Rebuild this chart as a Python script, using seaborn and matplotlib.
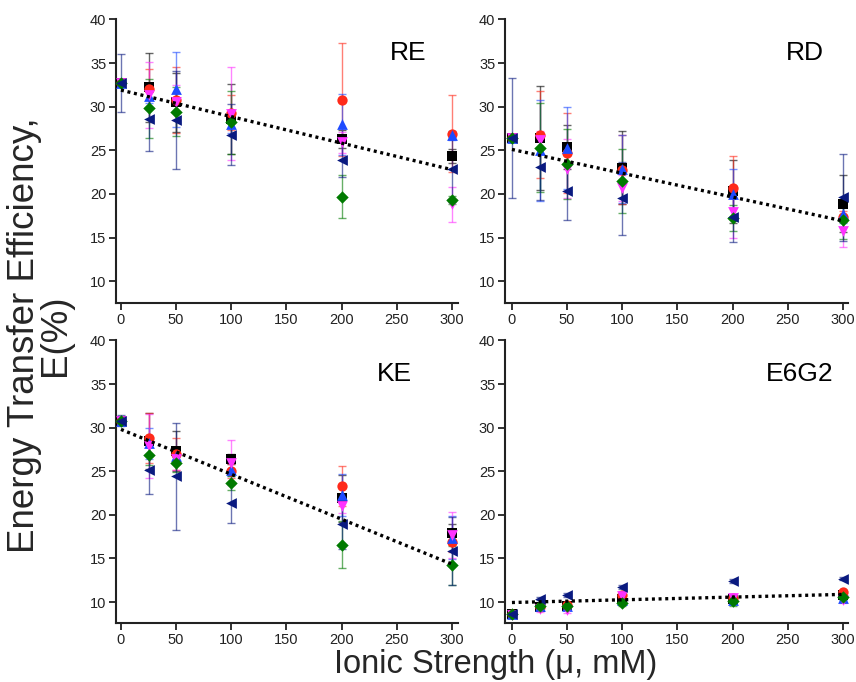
import numpy as np
import pandas as pd
import matplotlib
matplotlib.use("Agg")
import matplotlib.pyplot as plt
import seaborn as sns

sns.set_theme(style="ticks")
plt.rcParams['font.family'] = ['Liberation Sans', 'DejaVu Sans']

ionic = [0, 25, 50, 100, 200, 300]
panels = ["RE", "RD", "KE", "E6G2"]
series = ["black", "red", "blue", "magenta", "green", "navy"]

# values per panel, per series
RE_vals = {
    "black":   [32.7, 32.2, 30.5, 28.6, 26.3, 24.3],
    "red":     [32.7, 32.0, 30.8, 29.3, 30.8, 26.9],
    "blue":    [32.7, 31.2, 32.0, 28.0, 28.0, 26.7],
    "magenta": [32.7, 31.3, 30.5, 29.2, 25.9, 18.8],
    "green":   [32.7, 29.8, 29.4, 28.2, 19.7, 19.3],
    "navy":    [32.7, 28.6, 28.5, 26.8, 23.9, 22.9],
}
RE_errs = {
    "black":   [0.3, 3.9, 3.4, 4.0, 1.0, 0.8],
    "red":     [0.3, 2.3, 3.8, 2.0, 6.5, 4.4],
    "blue":    [0.3, 0.8, 4.3, 1.0, 3.5, 0.5],
    "magenta": [0.3, 3.8, 2.0, 5.3, 1.2, 2.0],
    "green":   [0.3, 3.4, 2.8, 3.6, 2.5, 0.5],
    "navy":    [3.3, 3.7, 5.6, 3.5, 2.0, 3.8],
}
RD_vals = {
    "black":   [26.4, 26.4, 25.4, 23.0, 20.3, 18.9],
    "red":     [26.4, 26.8, 24.7, 22.8, 20.7, 17.4],
    "blue":    [26.4, 25.0, 25.3, 22.9, 20.0, 17.7],
    "magenta": [26.4, 26.2, 22.9, 20.7, 17.9, 15.7],
    "green":   [26.4, 25.3, 23.4, 21.5, 17.2, 17.0],
    "navy":    [26.4, 23.1, 20.3, 19.5, 17.3, 19.6],
}
RD_errs = {
    "black":   [0.3, 6.0, 2.5, 4.2, 3.6, 3.3],
    "red":     [0.3, 5.0, 4.6, 4.0, 3.6, 0.6],
    "blue":    [0.3, 5.8, 4.7, 3.9, 2.9, 1.0],
    "magenta": [0.3, 1.0, 3.4, 1.5, 3.0, 1.8],
    "green":   [0.3, 5.1, 4.0, 3.7, 1.5, 2.2],
    "navy":    [6.9, 3.8, 3.3, 4.2, 2.8, 5.0],
}
KE_vals = {
    "black":   [30.8, 28.5, 27.3, 26.4, 21.9, 17.9],
    "red":     [30.8, 28.8, 27.0, 25.0, 23.3, 16.9],
    "blue":    [30.8, 28.2, 26.8, 25.2, 22.3, 17.4],
    "magenta": [30.8, 27.9, 26.4, 26.0, 21.0, 17.7],
    "green":   [30.8, 26.9, 25.9, 23.7, 16.6, 14.2],
    "navy":    [30.8, 25.1, 24.4, 21.4, 19.0, 15.9],
}
KE_errs = {
    "black":   [0.3, 3.2, 2.3, 0.6, 2.7, 1.0],
    "red":     [0.3, 2.9, 1.8, 0.8, 2.3, 1.2],
    "blue":    [0.3, 1.8, 1.0, 0.8, 2.4, 2.5],
    "magenta": [0.3, 3.7, 1.3, 2.6, 0.8, 2.6],
    "green":   [0.3, 1.2, 1.0, 0.8, 2.7, 2.2],
    "navy":    [0.6, 2.7, 6.1, 2.3, 2.9, 3.9],
}
E6G2_vals = {
    "black":   [8.6, 9.4, 9.6, 10.3, 10.4, 10.8],
    "red":     [8.6, 9.4, 9.7, 10.8, 10.5, 11.1],
    "blue":    [8.6, 9.6, 9.5, 10.2, 10.2, 10.5],
    "magenta": [8.5, 9.2, 9.1, 10.7, 10.5, 10.2],
    "green":   [8.6, 9.5, 9.6, 9.9, 10.1, 10.6],
    "navy":    [8.6, 10.4, 10.8, 11.7, 12.4, 12.7],
}
E6G2_errs = {
    "black":   [0.2, 0.3, 0.3, 0.3, 0.3, 0.3],
    "red":     [0.2, 0.3, 0.3, 0.3, 0.3, 0.3],
    "blue":    [0.2, 0.3, 0.3, 0.3, 0.3, 0.3],
    "magenta": [0.2, 0.3, 0.3, 0.3, 0.3, 0.3],
    "green":   [0.2, 0.3, 0.3, 0.3, 0.6, 0.3],
    "navy":    [0.2, 0.2, 0.2, 0.2, 0.2, 0.2],
}
fit_intercepts = [31.9, 25.1, 29.8, 9.95]
fit_slopes = [-0.0304, -0.0273, -0.0515, 0.0031]

all_vals = [RE_vals, RD_vals, KE_vals, E6G2_vals]
all_errs = [RE_errs, RD_errs, KE_errs, E6G2_errs]

colors = {"black": "#000000", "red": "#FF2A1A", "blue": "#1E4BFF",
          "magenta": "#FF33FF", "green": "#007A00", "navy": "#0A1A80"}
markers = {"black": "s", "red": "o", "blue": "^", "magenta": "v",
           "green": "D", "navy": "<"}
msize = {"black": 42, "red": 55, "blue": 60, "magenta": 60, "green": 40, "navy": 60}

W, H = 856, 682
fig = plt.figure(figsize=(W / 100, H / 100), dpi=100)

boxes = [(116, 19, 458, 303), (505, 19, 848, 303),
         (116, 340, 458, 623), (505, 340, 848, 623)]
xlims = [(-4.5, 305.5), (-6.3, 304.5), (-4.5, 305.5), (-6.3, 304.5)]
ylims = [(7.5, 40.05), (7.5, 40.05), (7.6, 40.05), (7.6, 40.05)]
label_pos = [(0.855, 0.88), (0.875, 0.88), (0.815, 0.88), (0.86, 0.88)]

for i, name in enumerate(panels):
    l, t, r, b = boxes[i]
    ax = fig.add_axes([l / W, 1 - b / H, (r - l) / W, (b - t) / H])
    vals, errs = all_vals[i], all_errs[i]
    for s in series:
        df = pd.DataFrame({"x": ionic, "y": vals[s]})
        ax.errorbar(ionic, vals[s], yerr=errs[s], fmt="none", ecolor=colors[s],
                    elinewidth=1.0, capsize=3, capthick=1.0, alpha=0.6, zorder=2,
                    clip_on=False)
        sns.scatterplot(data=df, x="x", y="y", marker=markers[s], color=colors[s],
                        s=msize[s], linewidth=0, ax=ax, zorder=3, clip_on=False)
    xs = np.array([0, 300])
    fit_df = pd.DataFrame({"x": xs, "y": fit_intercepts[i] + fit_slopes[i] * xs})
    sns.lineplot(data=fit_df, x="x", y="y", color="black", linewidth=2.4,
                 linestyle=(0, (0.9, 1.1)), ax=ax, zorder=4)
    ax.set_xlim(*xlims[i])
    ax.set_ylim(*ylims[i])
    ax.set_xticks([0, 50, 100, 150, 200, 250, 300])
    ax.set_yticks([10, 15, 20, 25, 30, 35, 40])
    ax.set_xlabel("")
    ax.set_ylabel("")
    for sp in ["top", "right"]:
        ax.spines[sp].set_visible(False)
    for sp in ["left", "bottom"]:
        ax.spines[sp].set_linewidth(1.5)
        ax.spines[sp].set_color("#222222")
    ax.tick_params(direction="out", length=5, width=1.3, labelsize=10.5,
                   colors="#222222", pad=2)
    ax.text(label_pos[i][0], label_pos[i][1], name, transform=ax.transAxes,
            ha="center", va="center", fontsize=19, color="black")

fig.text(40 / W, 0.508, "Energy Transfer Efficiency,\nE(%)", rotation=90,
         ha="center", va="center", fontsize=26.5, linespacing=0.88,
         family=["Liberation Sans Narrow", "Liberation Sans", "DejaVu Sans"])
fig.text(496 / W, 1 - 665 / H, "Ionic Strength (μ, mM)", ha="center", va="center",
         fontsize=23.5)

fig.savefig("out.png", dpi=100)
